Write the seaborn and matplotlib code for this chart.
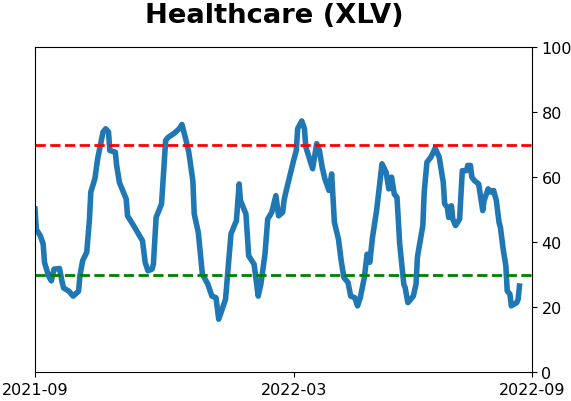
import matplotlib
matplotlib.use("Agg")
import matplotlib.pyplot as plt
import matplotlib.dates as mdates
import seaborn as sns
import pandas as pd

dates = [
    "2021-09-01", "2021-09-02", "2021-09-05", "2021-09-07", "2021-09-08", "2021-09-11",
    "2021-09-13", "2021-09-15", "2021-09-19", "2021-09-21", "2021-09-22", "2021-09-26",
    "2021-09-29", "2021-10-03", "2021-10-04", "2021-10-06", "2021-10-09", "2021-10-11",
    "2021-10-12", "2021-10-15", "2021-10-17", "2021-10-19", "2021-10-21", "2021-10-23",
    "2021-10-25", "2021-10-26", "2021-10-30", "2021-10-31", "2021-11-02", "2021-11-07",
    "2021-11-08", "2021-11-11", "2021-11-14", "2021-11-19", "2021-11-21", "2021-11-23",
    "2021-11-26", "2021-11-27", "2021-11-29", "2021-12-03", "2021-12-06", "2021-12-08",
    "2021-12-12", "2021-12-16", "2021-12-18", "2021-12-21", "2021-12-23", "2021-12-26",
    "2021-12-27", "2021-12-30", "2022-01-02", "2022-01-06", "2022-01-09", "2022-01-12",
    "2022-01-14", "2022-01-17", "2022-01-19", "2022-01-23", "2022-01-25", "2022-01-27",
    "2022-01-29", "2022-01-30", "2022-02-03", "2022-02-05", "2022-02-09", "2022-02-12",
    "2022-02-14", "2022-02-17", "2022-02-19", "2022-02-22", "2022-02-25", "2022-02-27",
    "2022-03-02", "2022-03-03", "2022-03-04", "2022-03-07", "2022-03-10", "2022-03-12",
    "2022-03-13", "2022-03-16", "2022-03-18", "2022-03-19", "2022-03-24", "2022-03-27",
    "2022-03-29", "2022-03-31", "2022-04-02", "2022-04-05", "2022-04-07", "2022-04-09",
    "2022-04-12", "2022-04-14", "2022-04-16", "2022-04-19", "2022-04-21", "2022-04-24",
    "2022-04-26", "2022-04-28", "2022-05-01", "2022-05-03", "2022-05-05", "2022-05-07",
    "2022-05-10", "2022-05-14", "2022-05-17", "2022-05-19", "2022-05-21", "2022-05-23",
    "2022-05-25", "2022-05-27", "2022-05-30", "2022-05-31", "2022-06-02", "2022-06-06",
    "2022-06-08", "2022-06-09", "2022-06-10", "2022-06-13", "2022-06-14", "2022-06-16",
    "2022-06-19", "2022-06-22", "2022-06-25", "2022-06-28", "2022-06-29", "2022-07-01",
    "2022-07-02", "2022-07-04", "2022-07-05", "2022-07-07", "2022-07-10", "2022-07-12",
    "2022-07-15", "2022-07-16", "2022-07-18", "2022-07-19", "2022-07-21", "2022-07-24",
    "2022-07-27", "2022-07-28", "2022-07-31", "2022-08-02", "2022-08-04", "2022-08-06",
    "2022-08-08", "2022-08-09", "2022-08-11", "2022-08-13", "2022-08-14", "2022-08-16",
    "2022-08-17", "2022-08-21", "2022-08-22", "2022-08-23",
]
values = [
    50.3, 44, 42, 39.5, 33.8, 29.7,
    28.2, 31.8, 32, 27.7, 26, 25,
    23.5, 25, 29.7, 34.4, 37, 47,
    55.5, 59.6, 65.7, 69.8, 74, 75,
    74, 68.3, 67.8, 63.7, 58.5, 53.4,
    48.2, 46.2, 44.1, 40.5, 33.8, 31.3,
    31.8, 33.3, 47.7, 51.9, 71.4, 72.4,
    73.5, 75, 76.3, 71.4, 67.8, 59,
    48.8, 43.1, 30.2, 27.2, 23.5, 23,
    16.4, 20, 22.5, 42.6, 44.7, 46.7,
    58, 52.9, 48.8, 35.9, 33.3, 23.5,
    27.2, 36.4, 47.2, 49.3, 54.4, 48.2,
    49.3, 52.9, 54.9, 60, 65.2, 68.3,
    75, 77.4, 75, 69.4, 62.7, 70.4,
    68.3, 63.2, 59.6, 56, 61.1, 46.2,
    41, 34.4, 29.2, 27.7, 23.5, 23,
    20.5, 23, 29.2, 36.4, 33.9, 41.6,
    49.8, 64.2, 61.6, 56.5, 60.1, 54.9,
    53.9, 39.5, 27.2, 26.1, 21.5, 23.5,
    27.2, 35.4, 38, 45.2, 55.5, 64.7,
    66.3, 69, 66.3, 58.5, 51.9, 50.8,
    47.7, 51.3, 47.2, 45.2, 47.2, 62.1,
    62.1, 63.7, 63.7, 60.1, 59, 58,
    49.8, 52.9, 56.5, 55.5, 56, 52.9,
    46.2, 44.7, 38, 32.8, 25.1, 24.1,
    20.5, 21.5, 22.5, 26.6,
]
overbought = 70
oversold = 30
x_limits = ["2021-09-01", "2022-09-01"]
tick_dates = ["2021-09-01", "2022-03-10", "2022-09-01"]
y_ticks = [0, 20, 40, 60, 80, 100]
title = "Healthcare (XLV)"

df = pd.DataFrame({"date": pd.to_datetime(dates), "value": values})

fig = plt.figure(figsize=(5.71, 4.02), dpi=100)
ax = fig.add_axes([0.0613, 0.0709, 0.8699, 0.8085])
sns.lineplot(data=df, x="date", y="value", ax=ax, color="#1f77b4", linewidth=4)
ax.axhline(overbought, color="red", linestyle="--", linewidth=2)
ax.axhline(oversold, color="green", linestyle="--", linewidth=2)
ax.set_xlim(pd.to_datetime(x_limits))
ax.set_ylim(0, 100)
ax.yaxis.tick_right()
ax.set_yticks(y_ticks)
ax.set_xticks(pd.to_datetime(tick_dates))
ax.xaxis.set_major_formatter(mdates.DateFormatter("%Y-%m"))
ax.tick_params(labelsize=11.5)
ax.set_xlabel("")
ax.set_ylabel("")
ax.set_title(title, fontsize=19.7, fontweight="bold", x=0.4826, pad=18)
fig.savefig("out.png", dpi=100)
